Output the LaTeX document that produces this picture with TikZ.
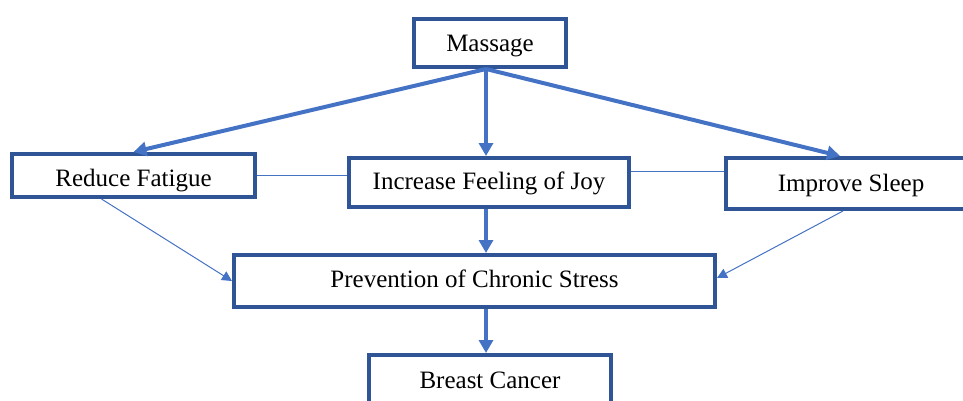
\documentclass[tikz,border=0pt]{standalone}
\usepackage{fontspec}
\setmainfont{Liberation Serif}
\usetikzlibrary{arrows.meta}
\definecolor{boxblue}{HTML}{2F5597}
\definecolor{linkblue}{HTML}{4472C4}
\tikzset{
  stage/.style={draw=boxblue, line width=2pt, fill=white, inner sep=0pt, text depth=3pt, text height=11pt, font=\fontsize{12.5}{15}\selectfont},
  bigarrow/.style={draw=linkblue, line width=2pt, -{Triangle[length=6.5pt,width=7pt]}},
  thinarrow/.style={draw=linkblue, line width=0.5pt, -{Triangle[length=5pt,width=5pt]}},
  thinlink/.style={draw=linkblue, line width=0.5pt}
}
\begin{document}
\begin{tikzpicture}[x=0.5pt,y=-0.5pt]
\useasboundingbox (0,0) rectangle (963,401);
\node[stage, minimum width=76pt, minimum height=24pt, text height=12pt] (massage) at (490,43) {Massage};
\node[stage, minimum width=121.5pt, minimum height=21.5pt, text height=13.5pt] (fatigue) at (133.5,175.5) {Reduce Fatigue};
\node[stage, minimum width=140pt, minimum height=24.5pt, text height=9.5pt] (joy) at (489,182.5) {Increase Feeling of Joy};
\node[stage, minimum width=125pt, minimum height=25.5pt, text height=10.5pt] (sleep) at (851,183.5) {Improve Sleep};
\node[stage, minimum width=240.5pt, minimum height=26pt, text height=9pt] (stress) at (474.5,281) {Prevention of Chronic Stress};
\node[stage, minimum width=121pt, minimum height=25pt] (cancer) at (490,380) {Breast Cancer};

\draw[bigarrow] ([xshift=-2pt]massage.south) -- (fatigue.north);
\draw[bigarrow] ([xshift=-2pt]massage.south) -- ([xshift=-1.5pt]joy.north);
\draw[bigarrow] ([xshift=-2pt]massage.south) -- ([xshift=-5.5pt]sleep.north);
\draw[bigarrow] ([xshift=-1.5pt]joy.south) -- ([xshift=-1.5pt]joy.south |- stress.north);
\draw[bigarrow] ([xshift=-2pt]cancer.north |- stress.south) -- ([xshift=-2pt]cancer.north);

\draw[thinlink] (fatigue.east) -- (fatigue.east -| joy.west);
\draw[thinlink] ([yshift=5.75pt]joy.east) -- ([yshift=5.75pt]joy.east -| sleep.west);
\draw[thinarrow] ([xshift=-16pt]fatigue.south) -- (stress.west);
\draw[thinarrow] ([xshift=-4pt]sleep.south) -- ([yshift=1.5pt]stress.east);
\end{tikzpicture}
\end{document}
